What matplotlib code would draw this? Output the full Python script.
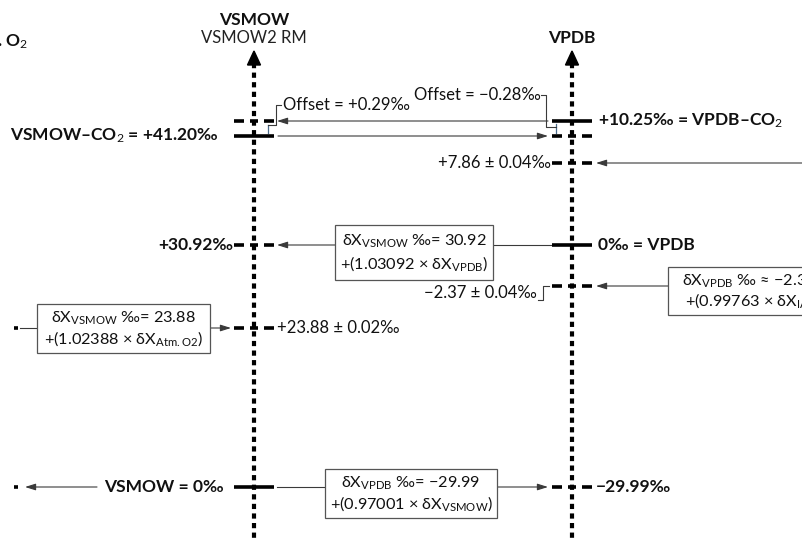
import matplotlib
matplotlib.use("Agg")
import matplotlib.pyplot as plt
from matplotlib.patches import Polygon, Rectangle

plt.rcParams['font.family'] = ['Lato', 'DejaVu Sans']
plt.rcParams['mathtext.fontset'] = 'custom'
plt.rcParams['mathtext.rm'] = 'Lato'
plt.rcParams['mathtext.it'] = 'Lato:italic'
plt.rcParams['mathtext.bf'] = 'Lato:bold'

# ---------------- content (values / labels) ----------------
scale_titles = ["VSMOW", "VPDB"]
scale_subtitle = "VSMOW2 RM"
left_scale_title = "Atm. O$_2$"

vsmow_co2_value = "+41.20"
vpdb_co2_value = "+10.25"
offset_values = ["+0.29", "\u22120.28"]
vsmow_converted = "+30.92"
vsmow_atm_value = "+23.88 \u00b1 0.02"
vpdb_760 = "+7.86 \u00b1 0.04"
vpdb_ia = "\u22122.37 \u00b1 0.04"
vpdb_from_vsmow = "\u221229.99"

eq_vsmow_from_vpdb = ["30.92", "1.03092", "VPDB"]
eq_vsmow_from_atm = ["23.88", "1.02388", "Atm.O2"]
eq_vpdb_from_vsmow = ["\u221229.99", "0.97001", "VSMOW"]
eq_vpdb_from_ia = ["\u22122.37", "0.99763", "IA"]

PM = "\u2030"

# ---------------- layout ----------------
W, H = 802, 540
X_VS, X_VP, X_AT = 254, 572, 16
TICK_HALF = 20
Y_TOP_ARROW = 51
LINE_C = "#3a3a3a"
TXT_C = "#111111"
FS_R = 12
FS_B = 12.5
FS_BOX = 11.7

fig = plt.figure(figsize=(W / 100, H / 100), dpi=100)
ax = fig.add_axes([0, 0, 1, 1])
ax.set_xlim(0, W)
ax.set_ylim(H, 0)
ax.axis("off")


def axis_line(x):
    ax.plot([x, x], [63, H + 5], color="black", lw=3.0,
            linestyle=(0, (1.25, 1.05)), solid_capstyle="butt", zorder=3)
    ax.add_patch(Polygon([[x - 6.5, 65], [x + 6.5, 65], [x, Y_TOP_ARROW]],
                         closed=True, color="black", zorder=4))


def solid_tick(x, y):
    ax.plot([x - TICK_HALF, x + TICK_HALF], [y, y], color="black", lw=2.6,
            solid_capstyle="butt", zorder=5)


def dashed_tick(x, y):
    for a, b in [(-TICK_HALF, -10), (-4, 4), (10, TICK_HALF)]:
        ax.plot([x + a, x + b], [y, y], color="black", lw=2.6,
                solid_capstyle="butt", zorder=5)


def arrow(x0, y0, x1, y1):
    ax.annotate("", xy=(x1, y1), xytext=(x0, y0),
                arrowprops=dict(arrowstyle="-|>,head_length=0.7,head_width=0.22",
                                lw=0.8, color=LINE_C, shrinkA=0, shrinkB=0,
                                mutation_scale=9), zorder=2)


def line(xs, ys, color=LINE_C, lw=0.8):
    ax.plot(xs, ys, color=color, lw=lw, zorder=2)


def label(x, y, s, ha, bold=False):
    ax.text(x, y, s, ha=ha, va="center", fontsize=FS_B if bold else FS_R,
            fontweight="bold" if bold else "normal", color=TXT_C, zorder=7)


def box(x0, y0, x1, y1, lines):
    ax.add_patch(Rectangle((x0, y0), x1 - x0, y1 - y0, fc="white",
                           ec="#555555", lw=0.9, zorder=6))
    cx = (x0 + x1) / 2
    ax.text(cx, y0 + (y1 - y0) * 0.3, lines[0], ha="center", va="center",
            fontsize=FS_BOX, color=TXT_C, zorder=7)
    ax.text(cx, y0 + (y1 - y0) * 0.7, lines[1], ha="center", va="center",
            fontsize=FS_BOX, color=TXT_C, zorder=7)


# axes
axis_line(X_VS)
axis_line(X_VP)

# titles
label(X_VS, 20, scale_titles[0], "center", bold=True)
ax.text(X_VS, 38, scale_subtitle, ha="center", va="center", fontsize=FS_R,
        color="#222222")
label(X_VP, 38, scale_titles[1], "center", bold=True)
label(28, 42, left_scale_title, "right", bold=True)

# ---- CO2 levels ----
Y_VS_CO2, Y_VS_CO2_D = 136, 121
Y_VP_CO2, Y_VP_CO2_D = 121, 136
solid_tick(X_VS, Y_VS_CO2)
dashed_tick(X_VS, Y_VS_CO2_D)
solid_tick(X_VP, Y_VP_CO2)
dashed_tick(X_VP, Y_VP_CO2_D)
label(219, Y_VS_CO2, f"VSMOW\u2013CO$_2$ = {vsmow_co2_value}{PM}", "right", bold=True)
label(X_VP + 26, Y_VP_CO2, f"{vpdb_co2_value}{PM} = VPDB\u2013CO$_2$", "left", bold=True)
arrow(X_VP - 24, Y_VP_CO2, X_VS + 23, Y_VP_CO2)
arrow(X_VS + 24, Y_VS_CO2, X_VP - 24, Y_VS_CO2)

# offsets brackets
line([268, 268], [125, 133], color="#4a6a8a", lw=0.9)
line([268, 276, 276, 281], [125, 125, 105, 105])
label(283, 105, f"Offset = {offset_values[0]}{PM}", "left")
line([556, 556], [124, 133], color="#4a6a8a", lw=0.9)
line([556, 546, 546, 541], [127, 127, 95, 95])
label(541, 95, f"Offset = {offset_values[1]}{PM}", "right")

# ---- +7.86 ----
Y_760 = 163
dashed_tick(X_VP, Y_760)
label(X_VP - 21, Y_760, f"{vpdb_760}{PM}", "right")
arrow(W + 5, Y_760, X_VP + 24, Y_760)

# ---- 30.92 / VPDB 0 ----
Y_VPDB0 = 245
solid_tick(X_VP, Y_VPDB0)
dashed_tick(X_VS, Y_VPDB0)
label(X_VS - 21, Y_VPDB0, f"{vsmow_converted}{PM}", "right", bold=True)
label(X_VP + 26, Y_VPDB0, f"0{PM} = VPDB", "left", bold=True)
box(335, 225, 493, 280,
    [f"\u03b4X$_{{\\mathrm{{VSMOW}}}}$ {PM}= {eq_vsmow_from_vpdb[0]}",
     f"+({eq_vsmow_from_vpdb[1]} \u00d7 \u03b4X$_{{\\mathrm{{{eq_vsmow_from_vpdb[2]}}}}}$)"])
line([493, X_VP - TICK_HALF], [Y_VPDB0, Y_VPDB0])
arrow(335, Y_VPDB0, X_VS + 23, Y_VPDB0)

# ---- -2.37 ----
Y_IA = 286
dashed_tick(X_VP, Y_IA)
line([538, 543, 543, 549], [300, 300, Y_IA, Y_IA])
label(537, 293, f"{vpdb_ia}{PM}", "right")
box(668, 267, 830, 315,
    [f"\u03b4X$_{{\\mathrm{{VPDB}}}}$ {PM} \u2248 {eq_vpdb_from_ia[0]}",
     f"+({eq_vpdb_from_ia[1]} \u00d7 \u03b4X$_{{\\mathrm{{{eq_vpdb_from_ia[2]}}}}}$)"])
arrow(668, Y_IA, X_VP + 24, Y_IA)

# ---- 23.88 ----
Y_ATM = 328
dashed_tick(X_VS, Y_ATM)
label(X_VS + 23, Y_ATM, f"{vsmow_atm_value}{PM}", "left")
box(37, 304, 210, 353,
    [f"\u03b4X$_{{\\mathrm{{VSMOW}}}}$ {PM}= {eq_vsmow_from_atm[0]}",
     f"+({eq_vsmow_from_atm[1]} \u00d7 \u03b4X$_{{\\mathrm{{Atm.O2}}}}$)"])
ax.plot([X_AT - 2, X_AT + 2], [Y_ATM, Y_ATM], color="black", lw=2.6,
        solid_capstyle="butt")
line([X_AT + 4, 37], [Y_ATM, Y_ATM])
arrow(210, Y_ATM, X_VS - 23, Y_ATM)

# ---- VSMOW 0 / -29.99 ----
Y_VS0 = 487
solid_tick(X_VS, Y_VS0)
dashed_tick(X_VP, Y_VS0)
label(224, Y_VS0, f"VSMOW = 0{PM}", "right", bold=True)
label(X_VP + 24, Y_VS0, f"{vpdb_from_vsmow}{PM}", "left", bold=True)
ax.plot([X_AT - 2, X_AT + 2], [Y_VS0, Y_VS0], color="black", lw=2.6,
        solid_capstyle="butt")
arrow(97, Y_VS0, 25, Y_VS0)
line([X_VS + 23, 325], [Y_VS0, Y_VS0])
box(325, 469, 497, 518,
    [f"\u03b4X$_{{\\mathrm{{VPDB}}}}$ {PM}= {eq_vpdb_from_vsmow[0]}",
     f"+({eq_vpdb_from_vsmow[1]} \u00d7 \u03b4X$_{{\\mathrm{{{eq_vpdb_from_vsmow[2]}}}}}$)"])
arrow(497, Y_VS0, X_VP - 24, Y_VS0)

fig.savefig("out.png", dpi=100)
